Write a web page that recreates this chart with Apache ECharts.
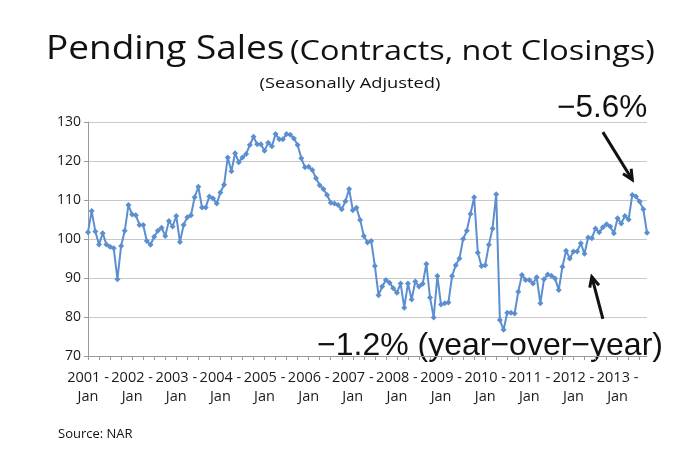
<!DOCTYPE html>
<html>
<head>
<meta charset="utf-8">
<script src="https://cdn.jsdelivr.net/npm/echarts@6/dist/echarts.min.js"></script>
<style>
html,body{margin:0;padding:0;background:#fff;}
#main{width:700px;height:452px;}
</style>
</head>
<body>
<div id="main"></div>
<script>
// Pending Home Sales Index, seasonally adjusted, monthly Jan 2001 - Sep 2013
const years = ['2001','2002','2003','2004','2005','2006','2007','2008','2009','2010','2011','2012','2013'];
const months = ['Jan','Feb','Mar','Apr','May','Jun','Jul','Aug','Sep','Oct','Nov','Dec'];
const y2001 = [101.7,107.2,101.9,98.6,101.5,98.6,98.0,97.6,89.7,98.2,102.1,108.7];
const y2002 = [106.3,106.1,103.6,103.6,99.5,98.5,100.6,102.1,102.9,100.8,104.6,103.2];
const y2003 = [105.9,99.2,103.6,105.6,106.1,110.7,113.4,108.1,108.1,110.9,110.4,109.1];
const y2004 = [111.9,113.9,120.9,117.4,122.0,119.7,120.9,121.8,124.1,126.2,124.3,124.3];
const y2005 = [122.6,124.7,123.8,126.9,125.6,125.6,126.9,126.7,125.8,124.1,120.7,118.4];
const y2006 = [118.5,117.7,115.6,113.8,112.8,111.3,109.3,109.1,108.7,107.6,109.7,112.8];
const y2007 = [107.4,108.0,104.9,100.8,99.1,99.5,93.1,85.6,87.8,89.5,88.8,87.4];
const y2008 = [86.2,88.6,82.4,88.6,84.5,89.1,87.8,88.5,93.6,85.0,79.9,90.5];
const y2009 = [83.2,83.5,83.7,90.5,93.3,95.0,100.0,102.1,106.4,110.7,96.5,93.1];
const y2010 = [93.3,98.5,102.7,111.5,79.2,76.7,81.1,81.1,80.9,86.5,90.8,89.5];
const y2011 = [89.5,88.6,90.2,83.5,89.7,90.9,90.6,89.9,86.9,92.9,97.0,95.0];
const y2012 = [96.8,96.8,98.9,96.2,100.4,100.2,102.7,101.7,103.0,103.8,103.2,101.5];
const y2013 = [105.3,104.0,105.9,105.0,111.3,110.9,109.6,107.6,101.6];
const yTicks = [70,80,90,100,110,120,130];

const values = [].concat(y2001,y2002,y2003,y2004,y2005,y2006,y2007,y2008,y2009,y2010,y2011,y2012,y2013);
const categories = [];
years.forEach(function(y){ months.forEach(function(m){ categories.push(y + ' - ' + m); }); });
categories.length = values.length;

const chart = echarts.init(document.getElementById('main'), null, {renderer:'canvas'});
const option = {
  backgroundColor:'#ffffff',
  animation:false,
  grid:{left:88, right:53, top:122, bottom:96, containLabel:false},
  xAxis:{
    type:'category', data:categories, boundaryGap:false,
    axisLine:{show:true, lineStyle:{color:'#9a9a9a', width:1}},
    axisTick:{show:true, interval:2, length:4, lineStyle:{color:'#9a9a9a'}},
    axisLabel:{interval:11, color:'#1a1a1a', fontFamily:'Open Sans', fontSize:14.5, lineHeight:19, margin:12,
      formatter:function(v){ var p=v.split(' - '); return p[0]+' -\n'+p[1]; }},
    splitLine:{show:false}
  },
  yAxis:{
    type:'value', min:yTicks[0], max:yTicks[yTicks.length-1], interval:10,
    axisLine:{show:true, lineStyle:{color:'#9a9a9a'}},
    axisTick:{show:true, length:4, lineStyle:{color:'#9a9a9a'}},
    axisLabel:{color:'#1a1a1a', fontFamily:'Open Sans', fontSize:14, margin:7},
    splitLine:{show:true, lineStyle:{color:'#c8c8c8', width:1}}
  },
  series:[{
    type:'line', data:values, symbol:'diamond', symbolSize:6, showSymbol:true, showAllSymbol:true,
    lineStyle:{color:'#5b8fd0', width:2}, itemStyle:{color:'#5b8fd0'}
  }]
};
chart.setOption(option);

function arrowGraphic(fromIdx, fromVal, toIdx, toVal){
  const a = chart.convertToPixel({gridIndex:0}, [fromIdx, fromVal]);
  const b = chart.convertToPixel({gridIndex:0}, [toIdx, toVal]);
  const ang = Math.atan2(b[1]-a[1], b[0]-a[0]);
  const hl = 11, spread = 0.45;
  const h1 = [b[0]-hl*Math.cos(ang-spread), b[1]-hl*Math.sin(ang-spread)];
  const h2 = [b[0]-hl*Math.cos(ang+spread), b[1]-hl*Math.sin(ang+spread)];
  return [
    {type:'polyline', shape:{points:[a,b]}, style:{stroke:'#111', lineWidth:3, fill:null}},
    {type:'polyline', shape:{points:[h1,b,h2]}, style:{stroke:'#111', lineWidth:3, fill:null, lineJoin:'miter'}}
  ];
}

const g = [
  {type:'text', x:46, y:50, scaleX:1.12, style:{text:'Pending Sales', font:'33px "Open Sans"', fill:'#111', textVerticalAlign:'middle'}},
  {type:'text', x:290, y:52, scaleX:1.2, style:{text:'(Contracts, not Closings)', font:'27px "Open Sans"', fill:'#111', textVerticalAlign:'middle'}},
  {type:'text', x:350, y:84, scaleX:1.22, style:{text:'(Seasonally Adjusted)', font:'15px "Open Sans"', fill:'#111', textAlign:'center', textVerticalAlign:'middle'}},
  {type:'text', x:557, y:108, style:{text:'\u22125.6%', font:'31.5px "Liberation Sans"', fill:'#111', textVerticalAlign:'middle'}},
  {type:'text', x:317, y:346, style:{text:'\u22121.2% (year\u2212over\u2212year)', font:'32px "Liberation Sans"', fill:'#111', textVerticalAlign:'middle'}},
  {type:'text', x:58, y:434, style:{text:'Source: NAR', font:'13px "Open Sans"', fill:'#111', textVerticalAlign:'middle'}}
].concat(arrowGraphic(140, 127.4, 148, 115.2)).concat(arrowGraphic(140, 79.5, 137, 90.3));
chart.setOption({graphic: g}, {replaceMerge:['graphic']});
</script>
</body>
</html>
